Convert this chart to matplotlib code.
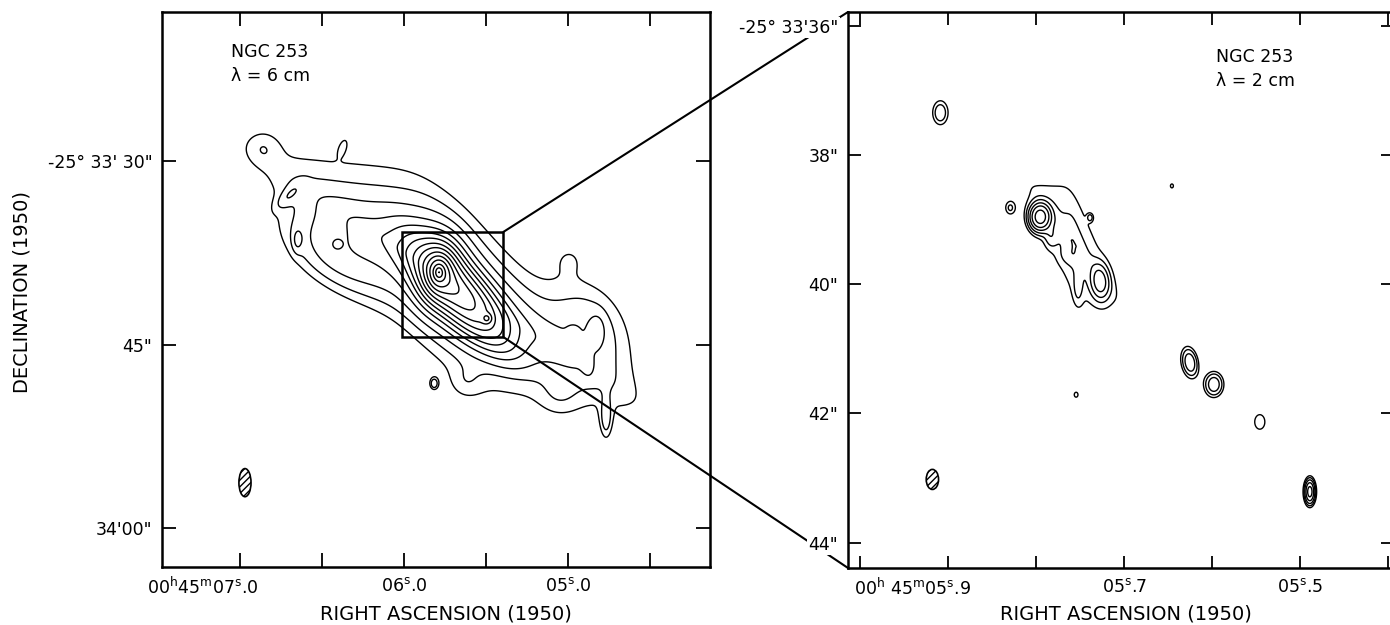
import numpy as np
import matplotlib
matplotlib.use('Agg')
import matplotlib.pyplot as plt
from matplotlib.patches import Rectangle, Ellipse, ConnectionPatch
from matplotlib.transforms import ScaledTranslation

plt.rcParams['font.family'] = ['DejaVu Sans']
plt.rcParams['mathtext.fontset'] = 'dejavusans'
plt.rcParams['mathtext.default'] = 'regular'
plt.rcParams['hatch.linewidth'] = 1.0

# ---------------- data ----------------
# RA in seconds of 00h45m, Dec as arcsec after -25d33'
SEC_TO_ARCSEC = 15 * np.cos(np.radians(25.56))
BOX_POWER = 6

# 6 cm map: emission components
# (RA s, Dec ", amplitude, scale 1 ", scale 2 ", PA1 deg, PA2 deg (box only), profile)
c6_ra   = [5.738, 5.671, 5.787, 5.494, 6.421, 4.835,
           6.860, 5.628, 5.049, 4.988, 4.768,
           6.372, 6.707, 6.652, 6.409, 4.970, 4.823, 4.890, 5.817]
c6_dec  = [39.67, 40.74, 39.10, 42.87, 37.70, 43.03,
           28.85, 48.20, 49.20, 37.87, 51.10,
           28.80, 32.87, 36.48, 36.80, 44.00, 43.85, 46.30, 48.20]
c6_amp  = [5.0, 14.0, 55.0, 6.0, 1.3, 1.0,
           0.5, 0.4, 0.4, 0.5, 0.9,
           0.45, 0.6, 0.6, 0.5, 0.5, 0.6, 0.5, 1.2]
c6_maj  = [8.1, 3.0, 0.82, 0.25, 3.7, 3.3,
           1.0, 1.0, 1.2, 1.0, 1.2,
           0.55, 1.0, 0.7, 0.25, 0.3, 0.9, 0.8, 0.35]
c6_min  = [4.7, 1.1, 0.57, 0.25, 2.05, 2.3,
           1.0, 1.0, 1.2, 1.0, 0.35,
           0.25, 0.4, 0.3, 0.25, 0.3, 0.45, 0.3, 0.25]
c6_pa   = [43, 43, 0, 0, 60, 30,
           0, 0, 0, 0, 0,
           160, 135, 0, 0, 0, 0, 10, 0]
c6_pa2  = [85] + [0] * 18
c6_prof = ['box', 'gauss', 'exp', 'gauss', 'gauss', 'gauss',
           'gauss', 'gauss', 'gauss', 'gauss', 'gauss',
           'gauss', 'gauss', 'gauss', 'gauss', 'gauss', 'gauss', 'gauss', 'gauss']
levels6 = [1, 1.35, 1.8, 2.45, 3.3, 4.5, 6, 8.2, 11, 15, 20, 27, 37, 49, 67, 90, 120]

# 2 cm map components
c2_ra   = [5.7580, 5.7955, 5.7830, 5.7636, 5.7273, 5.7523, 5.9091, 5.6250,
           5.5977, 5.5455, 5.4886, 5.8295, 5.7386, 5.6455, 5.7545]
c2_dec  = [39.35, 38.96, 39.27, 39.55, 39.96, 40.06, 37.35, 41.21,
           41.55, 42.13, 43.21, 38.82, 38.97, 38.48, 41.71]
c2_amp  = [2.3, 9.0, 1.0, 0.5, 3.5, 0.8, 2.0, 3.0,
           3.0, 1.4, 6.0, 1.3, 1.3, 1.3, 1.3]
c2_maj  = [1.13, 0.13, 0.12, 0.10, 0.17, 0.17, 0.144, 0.157,
           0.13, 0.13, 0.13, 0.08, 0.04, 0.04, 0.04]
c2_min  = [0.41, 0.10, 0.07, 0.10, 0.09, 0.05, 0.092, 0.083,
           0.10, 0.09, 0.055, 0.06, 0.03, 0.03, 0.03]
c2_pa   = [23, 0, 0, 0, 5, 0, 0, 10,
           0, 0, 0, 0, 0, 0, 0]
c2_pa2  = [90] + [0] * 14
c2_prof = ['box'] + ['gauss'] * 14
levels2 = [1, 1.5, 2.25, 3.4, 5, 7.6]

# beams (RA s, Dec ", width ", height ")
beam6 = (6.970, 56.3, 1.0, 2.3)
beam2 = (5.918, 43.02, 0.19, 0.31)

# axis tick values and labels
x6_ticks = [7.0, 6.5, 6.0, 5.5, 5.0, 4.5]
x6_labels = [r'00$^{h}$45$^{m}$07$^{s}$.0', '', r'06$^{s}$.0', '', r'05$^{s}$.0', '']
y6_ticks = [30, 45, 60]
y6_labels = ['-25° 33\' 30"', '45"', '34\'00"']
x2_ticks = [6.0, 5.9, 5.8, 5.7, 5.6, 5.5, 5.4]
x2_labels = ['', r'00$^{h}$ 45$^{m}$05$^{s}$.9', '', r'05$^{s}$.7', '', r'05$^{s}$.5', '']
y2_ticks = [36, 38, 40, 42, 44]
y2_labels = ['-25° 33\'36"', '38"', '40"', '42"', '44"']

# map limits
lim6_ra, lim6_dec = (7.476, 4.134), (63.2, 17.8)
lim2_ra, lim2_dec = (6.014, 5.394), (44.39, 35.79)


def field(ra, dec, cra, cdec, camp, cmaj, cmin, cpa, cpa2, cprof):
    RA, DEC = np.meshgrid(ra, dec)
    Z = np.zeros_like(RA)
    for r0, d0, a, sa, sb, pa, pa2, prof in zip(cra, cdec, camp, cmaj, cmin,
                                                 cpa, cpa2, cprof):
        dE = (RA - r0) * SEC_TO_ARCSEC
        dN = -(DEC - d0)
        p = np.radians(pa)
        if prof == 'box':
            # rounded parallelogram with sides along PA1 and PA2
            q = np.radians(pa2)
            e1E, e1N = np.sin(p), np.cos(p)
            e2E, e2N = np.sin(q), np.cos(q)
            det = e1E * e2N - e1N * e2E
            s = (dE * e2N - dN * e2E) / det
            t = (e1E * dN - e1N * dE) / det
            rho = (np.abs(s / sa) ** BOX_POWER + np.abs(t / sb) ** BOX_POWER) ** (1 / BOX_POWER)
            Z += a * np.exp(-rho)
            continue
        u = dE * np.sin(p) + dN * np.cos(p)
        v = dE * np.cos(p) - dN * np.sin(p)
        r2 = (u / sa) ** 2 + (v / sb) ** 2
        if prof == 'exp':
            Z += a * np.exp(-np.sqrt(r2))
        else:
            Z += a * np.exp(-0.5 * r2)
    return RA, DEC, Z


W, H = 1390, 625
fig = plt.figure(figsize=(W / 100, H / 100), dpi=100)
ax1 = fig.add_axes([162 / W, 58 / H, 548 / W, 555 / H])
ax2 = fig.add_axes([848 / W, 57 / H, 545 / W, 556 / H])

# ---- left panel
RA, DEC, Z = field(np.linspace(4.1, 7.5, 800), np.linspace(17.5, 63.5, 800),
                   c6_ra, c6_dec, c6_amp, c6_maj, c6_min, c6_pa, c6_pa2, c6_prof)
ax1.contour(RA, DEC, Z, levels=levels6, colors='k', linewidths=1.0)
ax1.set_xlim(*lim6_ra)
ax1.set_ylim(*lim6_dec)
ax1.add_patch(Ellipse((beam6[0], beam6[1]), beam6[2] / SEC_TO_ARCSEC, beam6[3],
                      fc='white', ec='k', lw=1.2, hatch='/////'))
ax1.add_patch(Rectangle((lim2_ra[0], lim2_dec[1]), lim2_ra[1] - lim2_ra[0],
                        lim2_dec[0] - lim2_dec[1], fill=False, ec='k', lw=1.8))
ax1.text(0.126, 0.945, 'NGC 253\nλ = 6 cm', transform=ax1.transAxes,
         va='top', ha='left', fontsize=12.5, linespacing=1.45)

# ---- right panel
RA2, DEC2, Z2 = field(np.linspace(5.39, 6.02, 900), np.linspace(35.7, 44.5, 900),
                      c2_ra, c2_dec, c2_amp, c2_maj, c2_min, c2_pa, c2_pa2, c2_prof)
ax2.contour(RA2, DEC2, Z2, levels=levels2, colors='k', linewidths=1.0)
ax2.set_xlim(*lim2_ra)
ax2.set_ylim(*lim2_dec)
ax2.add_patch(Ellipse((beam2[0], beam2[1]), beam2[2] / SEC_TO_ARCSEC, beam2[3],
                      fc='white', ec='k', lw=1.2, hatch='/////'))
ax2.text(0.675, 0.935, 'NGC 253\nλ = 2 cm', transform=ax2.transAxes,
         va='top', ha='left', fontsize=12.5, linespacing=1.45)
ax2.patch.set_alpha(0)

for ax, xt, xl, yt, yl, tl in [(ax1, x6_ticks, x6_labels, y6_ticks, y6_labels, 10),
                               (ax2, x2_ticks, x2_labels, y2_ticks, y2_labels, 9)]:
    ax.set_xticks(xt)
    ax.set_xticklabels(xl)
    ax.set_yticks(yt)
    ax.set_yticklabels(yl)
    ax.tick_params(direction='in', top=True, right=True, length=tl, width=1.3,
                   labelsize=12.5, pad=7)
    for s in ax.spines.values():
        s.set_linewidth(1.8)

# first RA label: the "00h45m" prefix hangs to the left of the tick
for ax, idx, dx in [(ax1, 0, 0.19), (ax2, 1, 0.23)]:
    lab = ax.get_xticklabels()[idx]
    lab.set_horizontalalignment('right')
    lab.set_transform(lab.get_transform() + ScaledTranslation(dx, 0, fig.dpi_scale_trans))

for lab in ax2.get_yticklabels():
    lab.set_bbox(dict(fc='white', ec='none', pad=1))

# connecting lines from zoom box to right panel
con1 = ConnectionPatch(xyA=(lim2_ra[1], lim2_dec[1]), coordsA=ax1.transData,
                       xyB=(0, 1), coordsB=ax2.transAxes, lw=1.5, color='k',
                       clip_on=False, zorder=5)
con2 = ConnectionPatch(xyA=(lim2_ra[1], lim2_dec[0]), coordsA=ax1.transData,
                       xyB=(0, 0), coordsB=ax2.transAxes, lw=1.5, color='k',
                       clip_on=False, zorder=5)
ax1.add_artist(con1)
ax1.add_artist(con2)

fig.text(446 / W, 1 - 614 / H, 'RIGHT ASCENSION (1950)', ha='center', va='center', fontsize=14)
fig.text(1126 / W, 1 - 614 / H, 'RIGHT ASCENSION (1950)', ha='center', va='center', fontsize=14)
fig.text(22 / W, 1 - 292 / H, 'DECLINATION (1950)', ha='center', va='center',
         rotation=90, fontsize=14)

fig.savefig('out.png', dpi=100)
